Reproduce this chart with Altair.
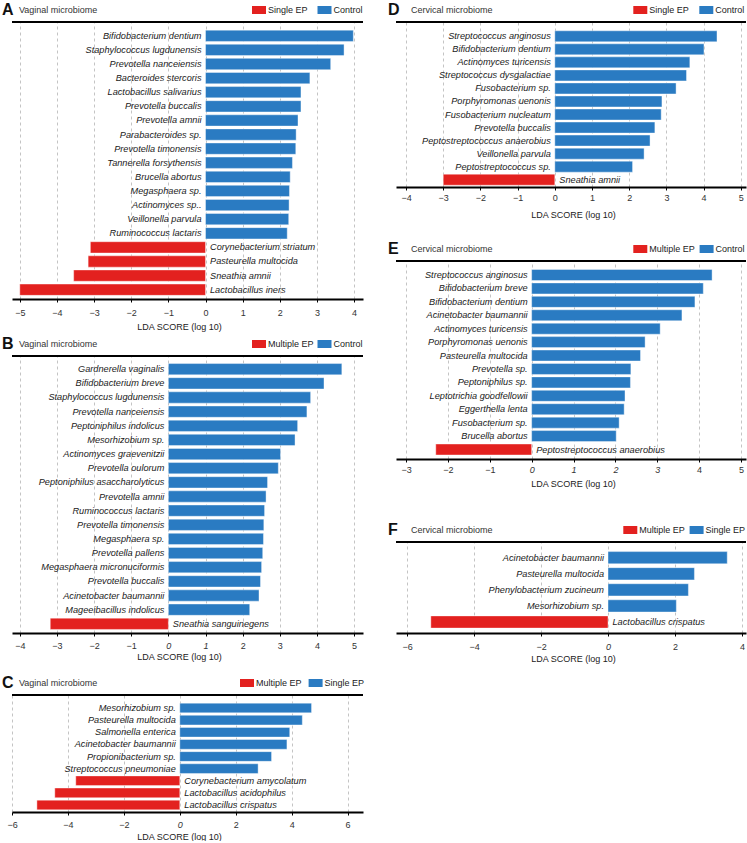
import altair as alt
import pandas as pd

FONT = "Liberation Sans"
RED = "#E3211F"
BLUE = "#2A7BC2"
XTITLE = "LDA SCORE (log 10)"

# ---------------- data ----------------
a_names = ["Bifidobacterium dentium", "Staphylococcus lugdunensis", "Prevotella nanceiensis",
           "Bacteroides stercoris", "Lactobacillus salivarius", "Prevotella buccalis",
           "Prevotella amnii", "Parabacteroides sp.", "Prevotella timonensis",
           "Tannerella forsythensis", "Brucella abortus", "Megasphaera sp.", "Actinomyces sp..",
           "Veillonella parvula", "Ruminococcus lactaris", "Corynebacterium striatum",
           "Pasteurella multocida", "Sneathia amnii", "Lactobacillus iners"]
a_values = [3.98, 3.73, 3.37, 2.81, 2.57, 2.57, 2.49, 2.44, 2.43, 2.34, 2.28, 2.26, 2.25,
            2.24, 2.20, -3.10, -3.16, -3.55, -5.00]
a_legend = ["Single EP", "Control"]
a_ticks = [-5, -4, -3, -2, -1, 0, 1, 2, 3, 4]

b_names = ["Gardnerella vaginalis", "Bifidobacterium breve", "Staphylococcus lugdunensis",
           "Prevotella nanceiensis", "Peptoniphilus indolicus", "Mesorhizobium sp.",
           "Actinomyces graevenitzii", "Prevotella oulorum", "Peptoniphilus asaccharolyticus",
           "Prevotella amnii", "Ruminococcus lactaris", "Prevotella timonensis",
           "Megasphaera sp.", "Prevotella pallens", "Megasphaera micronuciformis",
           "Prevotella buccalis", "Acinetobacter baumannii", "Mageeibacillus indolicus",
           "Sneathia sanguinegens"]
b_values = [4.67, 4.19, 3.83, 3.73, 3.48, 3.41, 3.02, 2.96, 2.67, 2.63, 2.59, 2.57, 2.56,
            2.54, 2.51, 2.48, 2.44, 2.19, -3.18]
b_legend = ["Multiple EP", "Control"]
b_ticks = [-4, -3, -2, -1, 0, 1, 2, 3, 4, 5]

c_names = ["Mesorhizobium sp.", "Pasteurella multocida", "Salmonella enterica",
           "Acinetobacter baumannii", "Propionibacterium sp.", "Streptococcus pneumoniae",
           "Corynebacterium amycolatum", "Lactobacillus acidophilus", "Lactobacillus crispatus"]
c_values = [4.71, 4.38, 3.93, 3.83, 3.28, 2.80, -3.72, -4.47, -5.11]
c_legend = ["Multiple EP", "Single EP"]
c_ticks = [-6, -4, -2, 0, 2, 4, 6]

d_names = ["Streptococcus anginosus", "Bifidobacterium dentium", "Actinomyces turicensis",
           "Streptococcus dysgalactiae", "Fusobacterium sp.", "Porphyromonas uenonis",
           "Fusobacterium nucleatum", "Prevotella buccalis", "Peptostreptococcus anaerobius",
           "Veillonella parvula", "Peptostreptococcus sp.", "Sneathia amnii"]
d_values = [4.36, 4.01, 3.63, 3.54, 3.26, 2.88, 2.86, 2.69, 2.56, 2.40, 2.09, -3.00]
d_legend = ["Single EP", "Control"]
d_ticks = [-4, -3, -2, -1, 0, 1, 2, 3, 4, 5]

e_names = ["Streptococcus anginosus", "Bifidobacterium breve", "Bifidobacterium dentium",
           "Acinetobacter baumannii", "Actinomyces turicensis", "Porphyromonas uenonis",
           "Pasteurella multocida", "Prevotella sp.", "Peptoniphilus sp.",
           "Leptotrichia goodfellowii", "Eggerthella lenta", "Fusobacterium sp.",
           "Brucella abortus", "Peptostreptococcus anaerobius"]
e_values = [4.31, 4.10, 3.90, 3.59, 3.07, 2.71, 2.60, 2.37, 2.36, 2.23, 2.21, 2.09, 2.02, -2.29]
e_legend = ["Multiple EP", "Control"]
e_ticks = [-3, -2, -1, 0, 1, 2, 3, 4, 5]

f_names = ["Acinetobacter baumannii", "Pasteurella multocida", "Phenylobacterium zucineum",
           "Mesorhizobium sp.", "Lactobacillus crispatus"]
f_values = [3.56, 2.58, 2.40, 2.04, -5.29]
f_legend = ["Multiple EP", "Single EP"]
f_ticks = [-6, -4, -2, 0, 2, 4]

# ---------------- layout (styles / positions) ----------------
LEFT = dict(w=351, lx=-10, hx=7, sx=-12, sr=2, tx=167)
RIGHT = dict(w=350, lx=-8, hx=15, sx=-10, sr=0, tx=177)

panels = {
    "A": dict(LEFT, sub="Vaginal microbiome", names=a_names, values=a_values, legend=a_legend,
              ticks=a_ticks, dom=[-5.21, 4.24], h=277, bb=35, c1=13.8, cn=267.7, bw=11.3,
              lp=6, ty=23, legx=240, cp=9.5, ital=[]),
    "B": dict(LEFT, sub="Vaginal microbiome", names=b_names, values=b_values, legend=b_legend,
              ticks=b_ticks, dom=[-4.21, 5.24], h=277, bb=40, c1=13.2, cn=267.8, bw=11.3,
              lp=5, ty=19, legx=240, cp=3.5, ital=[0, 1]),
    "C": dict(LEFT, sub="Vaginal microbiome", names=c_names, values=c_values, legend=c_legend,
              ticks=c_ticks, dom=[-6.0, 6.55], h=117, bb=27, c1=13.0, cn=110.0, bw=9.7,
              lp=5, ty=20, legx=228, cp=6.6, ital=[0]),
    "D": dict(RIGHT, sub="Cervical microbiome", names=d_names, values=d_values, legend=d_legend,
              ticks=d_ticks, dom=[-4.27, 5.14], h=165, bb=52, c1=14.3, cn=157.7, bw=11.0,
              lp=3, ty=23, legx=237.3, cp=10, ital=[]),
    "E": dict(RIGHT, sub="Cervical microbiome", names=e_names, values=e_values, legend=e_legend,
              ticks=e_ticks, dom=[-3.24, 5.12], h=198, bb=61, c1=14.0, cn=188.5, bw=11.0,
              lp=3, ty=20.5, legx=237.3, cp=4.3, ital=[0, 1, 2, 3]),
    "F": dict(RIGHT, sub="Cervical microbiome", names=f_names, values=f_values, legend=f_legend,
              ticks=f_ticks, dom=[-6.33, 4.12], h=91, bb=30, c1=15.7, cn=80.0, bw=12.2,
              lp=6, ty=21.5, legx=227.3, cp=4.3, ital=[0]),
}

RECT = "M-1,-0.57L1,-0.57L1,0.57L-1,0.57Z"


def panel(letter, p):
    names, values, legend = p["names"], p["values"], p["legend"]
    df = pd.DataFrame({"name": names, "v": values, "z": [0.0] * len(names)})
    df["grp"] = [legend[0] if v < 0 else legend[1] for v in values]
    W, H = p["w"], p["h"]
    n = len(names)
    step = (p["cn"] - p["c1"]) / (n - 1)
    pi = 1 - p["bw"] / step
    used = step * (n - pi)
    align = (p["c1"] - p["bw"] / 2) / (H - used)
    po = (H / step - n + pi) / 2
    yscale = alt.Scale(paddingInner=pi, paddingOuter=po, align=align)
    y = alt.Y("name:N", sort=names, axis=None, scale=yscale)

    axis_kw = dict(values=p["ticks"], title=XTITLE, grid=True, labelPadding=p["lp"],
                   titleX=p["tx"], titleY=p["ty"], labelFlush=False)
    if p["ital"]:
        axis_kw["labelFontStyle"] = {
            "condition": {"test": f"indexof({p['ital']}, datum.value) >= 0", "value": "italic"},
            "value": "normal"}
    xaxis = alt.Axis(**axis_kw)
    xscale = alt.Scale(domain=p["dom"], nice=False, zero=False)

    base = alt.Chart(df)
    bars = base.mark_bar(stroke="white", strokeWidth=0.5, strokeOpacity=0.8).encode(
        x=alt.X("v:Q", scale=xscale, axis=xaxis),
        y=y,
        color=alt.Color("grp:N", scale=alt.Scale(domain=legend, range=[RED, BLUE]),
                        legend=alt.Legend(orient="none", legendX=p["legx"], legendY=-19,
                                          direction="horizontal", title=None, symbolType=RECT,
                                          symbolSize=196, symbolStrokeWidth=0, symbolOpacity=1,
                                          labelFont=FONT, labelFontSize=9, labelColor="#222",
                                          labelOffset=2, columnPadding=p["cp"], padding=0)),
    )
    lab = dict(font=FONT, fontStyle="italic", fontSize=9.2, color="#1a1a1a", baseline="middle")
    pos = base.transform_filter("datum.v > 0").mark_text(align="right", dx=-4, **lab).encode(
        x=alt.X("z:Q", scale=xscale, axis=xaxis), y=y, text="name:N")
    neg = base.transform_filter("datum.v < 0").mark_text(align="left", dx=4.5, **lab).encode(
        x=alt.X("z:Q", scale=xscale, axis=xaxis), y=y, text="name:N")

    one = alt.Chart(pd.DataFrame({"k": [0]}))
    let = one.mark_text(text=letter, font=FONT, fontSize=16, fontWeight="bold", align="left",
                        baseline="middle", color="#111").encode(
        x=alt.value(p["lx"]), y=alt.value(-12))
    sub = one.mark_text(text=p["sub"], font=FONT, fontSize=9, align="left", baseline="middle",
                        color="#333").encode(x=alt.value(p["hx"]), y=alt.value(-12))
    top = one.mark_rule(color="black", strokeWidth=2).encode(
        x=alt.value(0), x2=alt.value(W), y=alt.value(0))
    spacer = one.mark_rule(strokeOpacity=0, strokeWidth=1).encode(
        x=alt.value(p["sx"]), x2=alt.value(W + p["sr"]), y=alt.value(-22),
        y2=alt.value(H + p["bb"]))
    return alt.layer(bars, pos, neg, top, let, sub, spacer).properties(width=W, height=H)


def column(keys):
    return alt.vconcat(*[panel(k, panels[k]) for k in keys], spacing=0).resolve_scale(
        x="independent", y="independent", color="independent").resolve_legend(color="independent")


chart = alt.hconcat(column(["A", "B", "C"]), column(["D", "E", "F"]), spacing=21).resolve_scale(
    x="independent", y="independent", color="independent").resolve_legend(
    color="independent").properties(padding=0).configure_view(stroke=None).configure_axis(
    domainColor="black", domainWidth=2, tickColor="black", tickSize=3, tickWidth=1,
    labelFont=FONT, labelFontSize=9, labelColor="#333", titleFont=FONT, titleFontSize=9,
    titleFontWeight="normal", titleColor="#222", gridColor="#b5b5b5", gridDash=[3, 3],
    gridWidth=0.8, labelOverlap=False)

chart.save("out.html", embed_options={"renderer": "svg", "actions": False})
